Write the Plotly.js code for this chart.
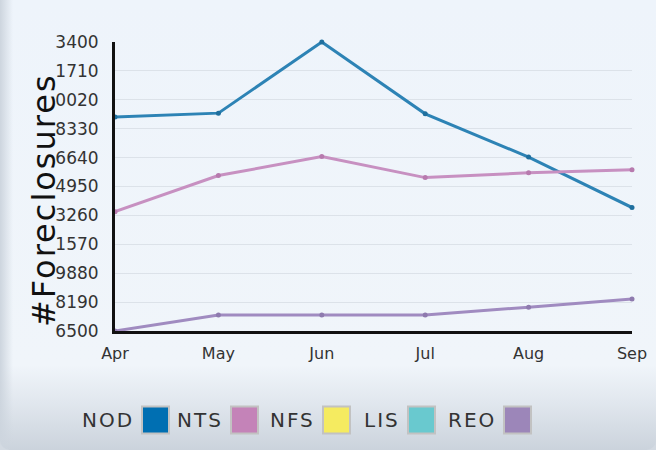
<!DOCTYPE html>
<html>
<head>
<meta charset="utf-8">
<script src="https://cdn.plot.ly/plotly-3.0.1.min.js"></script>
<style>
  html, body { margin: 0; padding: 0; background: #d3dae2; }
  #wrap {
    position: relative; width: 656px; height: 450px; overflow: hidden;
    border-radius: 0 0 10px 10px;
    background:
      linear-gradient(to right, #cdd5de 0px, rgba(238,244,251,0) 13px),
      linear-gradient(to bottom, #eef4fb 0px, #f0f5fa 365px, #e2e8ef 400px, #cbd3dc 450px);
  }
  #chart { position: absolute; left: 0; top: 0; width: 656px; height: 450px; }
  g.annotation text { letter-spacing: 2px; }
</style>
</head>
<body>
<div id="wrap"><div id="chart"></div></div>
<script>
// ---- data ----
const months = ['Apr', 'May', 'Jun', 'Jul', 'Aug', 'Sep'];
const seriesNames = ['NOD', 'NTS', 'NFS', 'LIS', 'REO'];
const nodValues = [139010, 139240, 143400, 139200, 136670, 133720];
const ntsValues = [133480, 135590, 136700, 135470, 135750, 135930];
const nfsValues = [null, null, null, null, null, null];
const lisValues = [null, null, null, null, null, null];
const reoValues = [126500, 127440, 127440, 127440, 127890, 128370];
const yTickValues = [126500, 128190, 129880, 131570, 133260, 134950, 136640, 138330, 140020, 141710, 143400];
const yTickLabels = ['6500', '8190', '9880', '1570', '3260', '4950', '6640', '8330', '0020', '1710', '3400'];
const yTitle = '#Foreclosures';

// ---- styles ----
const legendColors = ['#006fb2', '#c483b8', '#f5eb60', '#69c9cf', '#9c86b9'];
const lineColors = ['#2d83b5', '#c790c1', '#f5eb60', '#69c9cf', '#a08bc0'];
const markerColors = ['#1f6f9e', '#b77aae', '#e0d650', '#55b5bb', '#8e7aae'];
const allValues = [nodValues, ntsValues, nfsValues, lisValues, reoValues];

const W = 656, H = 450;
const M = { l: 115, r: 24, t: 42, b: 119 };
const PW = W - M.l - M.r, PH = H - M.t - M.b;
const px2x = px => (px - M.l) / PW;
const py2y = py => (H - M.b - py) / PH;

const traces = seriesNames.map((name, i) => ({
  type: 'scatter', mode: 'lines+markers', name: name,
  x: months, y: allValues[i],
  line: { color: lineColors[i], width: 3 },
  marker: { color: markerColors[i], size: 5 },
  showlegend: false, cliponaxis: false
}));

// custom legend: text then swatch box
const boxLefts = [142, 231, 323, 408, 504];
const boxSize = 27;
const legendY = 420;
const annotations = [{
  text: yTitle, textangle: -90, showarrow: false,
  xref: 'paper', yref: 'paper', x: px2x(44), y: py2y(200),
  xanchor: 'center', yanchor: 'middle',
  font: { family: 'DejaVu Sans', size: 32, color: '#111' }
}];
const shapes = [];
seriesNames.forEach((name, i) => {
  annotations.push({
    text: name, showarrow: false, xref: 'paper', yref: 'paper',
    x: px2x(boxLefts[i] - 9), y: py2y(legendY), xanchor: 'right', yanchor: 'middle',
    font: { family: 'DejaVu Sans', size: 20, color: '#333' }
  });
  shapes.push({
    type: 'rect', xref: 'paper', yref: 'paper',
    x0: px2x(boxLefts[i]), x1: px2x(boxLefts[i] + boxSize),
    y0: py2y(legendY + boxSize / 2), y1: py2y(legendY - boxSize / 2),
    fillcolor: legendColors[i], line: { color: '#c2c2c2', width: 2 }
  });
});

const layout = {
  width: W, height: H, margin: M,
  paper_bgcolor: 'rgba(0,0,0,0)', plot_bgcolor: 'rgba(0,0,0,0)',
  showlegend: false,
  xaxis: {
    type: 'category', range: [0, 5], showgrid: false, zeroline: false,
    showline: true, linewidth: 3, linecolor: '#111',
    ticks: '', ticklabelstandoff: 6,
    tickfont: { family: 'DejaVu Sans', size: 16, color: '#333' }
  },
  yaxis: {
    range: [126500, 143400], tickmode: 'array', tickvals: yTickValues, ticktext: yTickLabels,
    showgrid: true, gridcolor: '#dce2e9', gridwidth: 1, zeroline: false,
    showline: true, linewidth: 3, linecolor: '#111',
    ticks: '', ticklabelstandoff: 10,
    tickfont: { family: 'DejaVu Sans', size: 17, color: '#333' }
  },
  annotations: annotations,
  shapes: shapes
};

Plotly.newPlot('chart', traces, layout, { staticPlot: true, displayModeBar: false });
</script>
</body>
</html>
